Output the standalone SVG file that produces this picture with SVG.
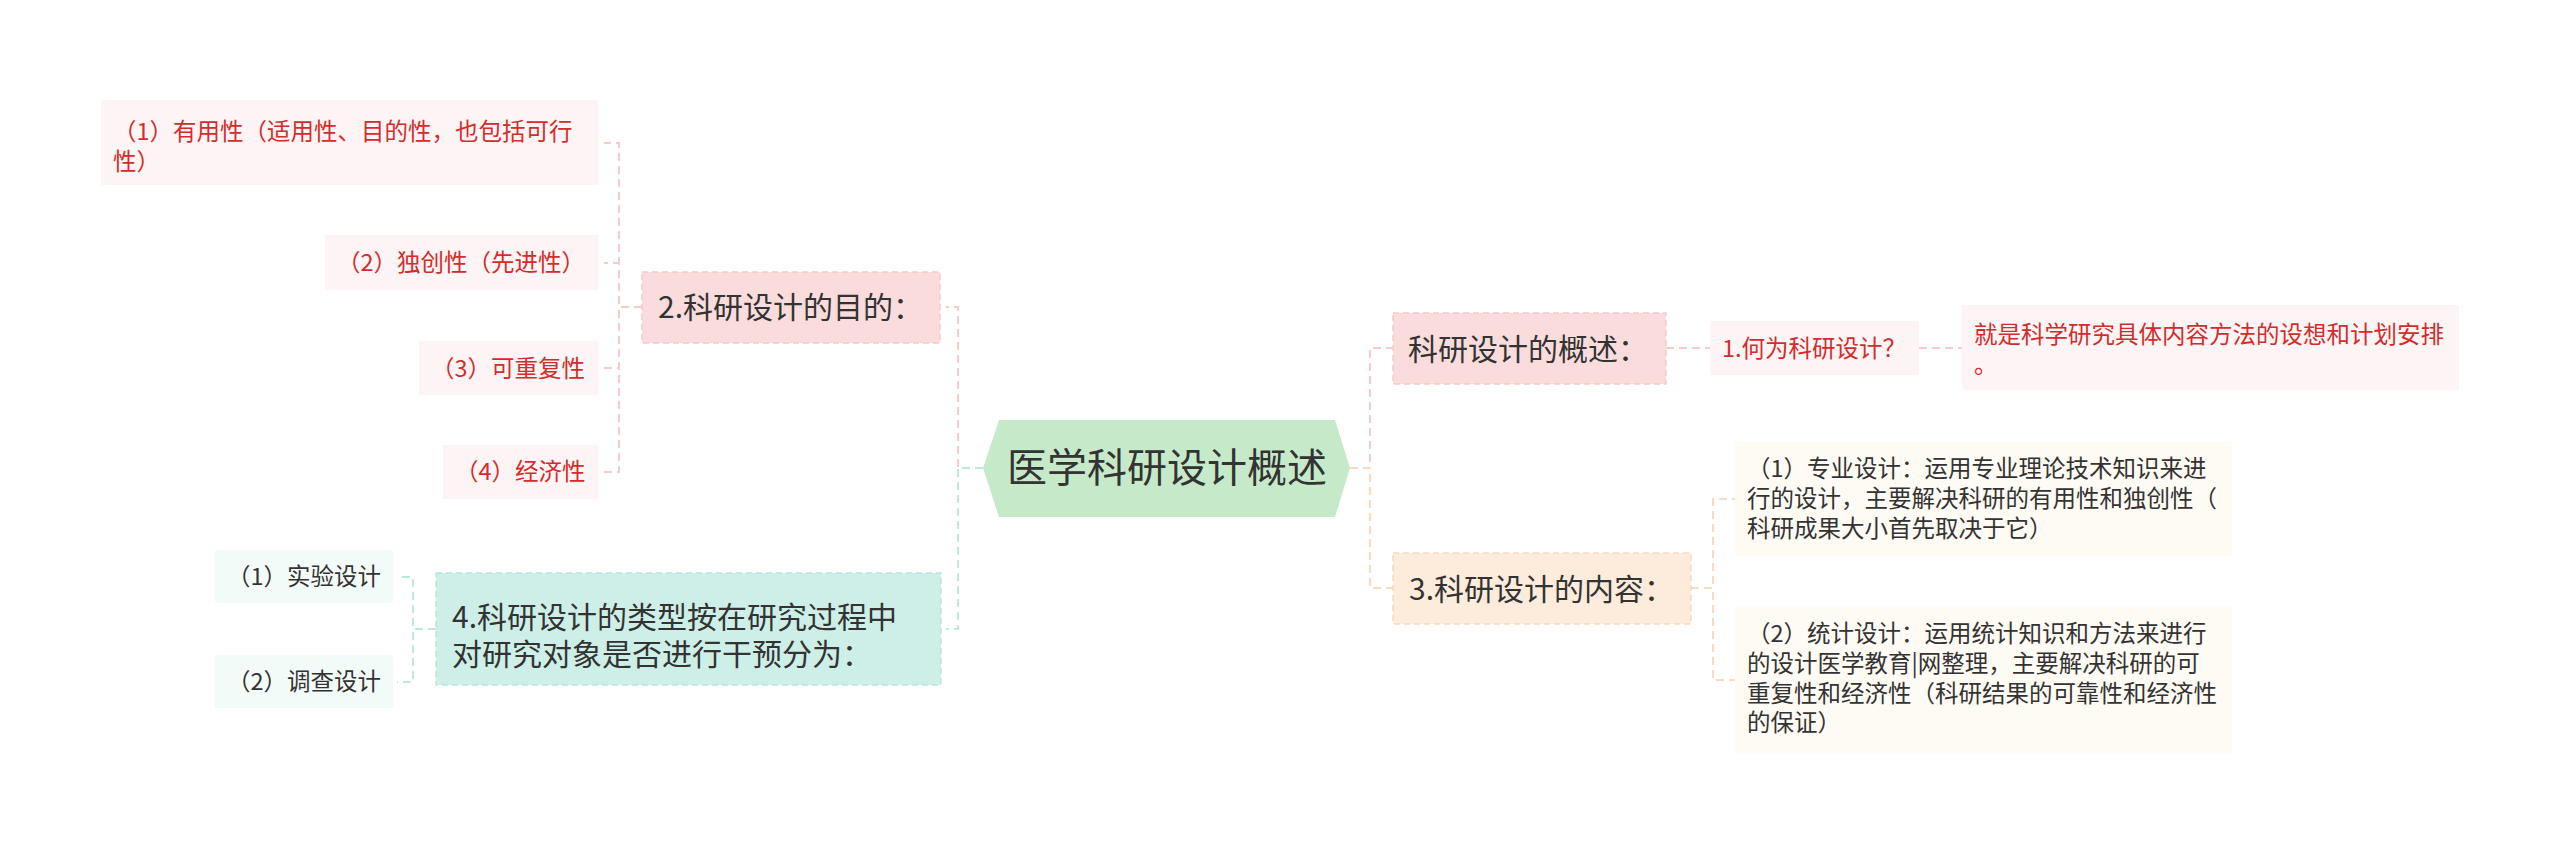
<svg xmlns="http://www.w3.org/2000/svg" width="2560" height="853" viewBox="0 0 2560 853">
<style>
text{font-family:"Noto Sans CJK SC","Microsoft YaHei",sans-serif;}
.l1{font-size:30px;fill:#333333;}
.lf{font-size:23.5px;}
.red{fill:#d42c2c;}
.dark{fill:#333333;}
.c{fill:none;stroke-width:2;stroke-dasharray:8 5;}
.pk{stroke:#f4cccc;}
.cy{stroke:#bfe9df;}
.pc{stroke:#f7dcc3;}
.bpk{fill:#fbdcdc;stroke:#f6c9c9;stroke-width:1.5;stroke-dasharray:6 4;}
.bcy{fill:#cdefe7;stroke:#b9e6da;stroke-width:1.5;stroke-dasharray:6 4;}
.bpc{fill:#fdebdb;stroke:#f7d9bd;stroke-width:1.5;stroke-dasharray:6 4;}
.lpk{fill:#fdf5f5;}
.lcy{fill:#f3fbf9;}
.lpc{fill:#fefaf4;}
</style>
<rect width="2560" height="853" fill="#ffffff"/>
<g id="connectors">
<path class="c pk" d="M983,468 H958 V307 H946"/>
<path class="c cy" d="M983,468 H958 V629 H946"/>
<path class="c pk" d="M1350,468 H1370 V348 H1393"/>
<path class="c pc" d="M1350,468 H1370 V588 H1393"/>
<path class="c pk" d="M642,307 H619 V143 H604"/>
<path class="c pk" d="M642,307 H619 V263 H604"/>
<path class="c pk" d="M642,307 H619 V368 H604"/>
<path class="c pk" d="M642,307 H619 V472 H604"/>
<path class="c cy" d="M436,629 H413 V577 H397"/>
<path class="c cy" d="M436,629 H413 V682 H397"/>
<path class="c pk" d="M1666,348 H1710"/>
<path class="c pk" d="M1919,348 H1962"/>
<path class="c pc" d="M1691,588 H1713 V499 H1735"/>
<path class="c pc" d="M1691,588 H1713 V680 H1735"/>
</g>
<g id="root">
<polygon points="983,468 999,420 1335,420 1350,468 1335,517 999,517" fill="#c6eac9"/>
<text x="1167" y="482" text-anchor="middle" font-size="40" fill="#333333">医学科研设计概述</text>
</g>
<g id="n2">
<rect class="bpk" x="642" y="272" width="298" height="71"/>
<text class="l1" x="658" y="318">2.科研设计的目的：</text>
</g>
<g id="n2c1">
<rect class="lpk" x="101" y="100" width="497" height="85"/>
<text class="lf red" x="113" y="140">（1）有用性（适用性、目的性，也包括可行</text>
<text class="lf red" x="113" y="170">性）</text>
</g>
<g id="n2c2">
<rect class="lpk" x="325" y="235" width="273" height="55"/>
<text class="lf red" x="337" y="271">（2）独创性（先进性）</text>
</g>
<g id="n2c3">
<rect class="lpk" x="419" y="341" width="179" height="54"/>
<text class="lf red" x="431" y="377">（3）可重复性</text>
</g>
<g id="n2c4">
<rect class="lpk" x="443" y="445" width="155" height="54"/>
<text class="lf red" x="455" y="480">（4）经济性</text>
</g>
<g id="n4">
<rect class="bcy" x="436" y="573" width="505" height="112"/>
<text class="l1" x="452" y="628">4.科研设计的类型按在研究过程中</text>
<text class="l1" x="452" y="665">对研究对象是否进行干预分为：</text>
</g>
<g id="n4c1">
<rect class="lcy" x="215" y="550" width="178" height="53"/>
<text class="lf dark" x="227" y="585">（1）实验设计</text>
</g>
<g id="n4c2">
<rect class="lcy" x="215" y="655" width="178" height="53"/>
<text class="lf dark" x="227" y="690">（2）调查设计</text>
</g>
<g id="n1">
<rect class="bpk" x="1393" y="313" width="273" height="71"/>
<text class="l1" x="1408" y="360">科研设计的概述：</text>
</g>
<g id="n1c1">
<rect class="lpk" x="1710" y="321" width="209" height="54"/>
<text class="lf red" x="1722" y="357">1.何为科研设计？</text>
</g>
<g id="n1c1c1">
<rect class="lpk" x="1962" y="305" width="497" height="85"/>
<text class="lf red" x="1974" y="343">就是科学研究具体内容方法的设想和计划安排</text>
<text class="lf red" x="1974" y="373">。</text>
</g>
<g id="n3">
<rect class="bpc" x="1393" y="553" width="298" height="71"/>
<text class="l1" x="1409" y="600">3.科研设计的内容：</text>
</g>
<g id="n3c1">
<rect class="lpc" x="1735" y="442" width="497" height="114"/>
<text class="lf dark" x="1747" y="477">（1）专业设计：运用专业理论技术知识来进</text>
<text class="lf dark" x="1747" y="507">行的设计，主要解决科研的有用性和独创性（</text>
<text class="lf dark" x="1747" y="537">科研成果大小首先取决于它）</text>
</g>
<g id="n3c2">
<rect class="lpc" x="1735" y="607" width="497" height="146"/>
<text class="lf dark" x="1747" y="642">（2）统计设计：运用统计知识和方法来进行</text>
<text class="lf dark" x="1747" y="672">的设计医学教育|网整理，主要解决科研的可</text>
<text class="lf dark" x="1747" y="702">重复性和经济性（科研结果的可靠性和经济性</text>
<text class="lf dark" x="1747" y="731">的保证）</text>
</g>
</svg>
